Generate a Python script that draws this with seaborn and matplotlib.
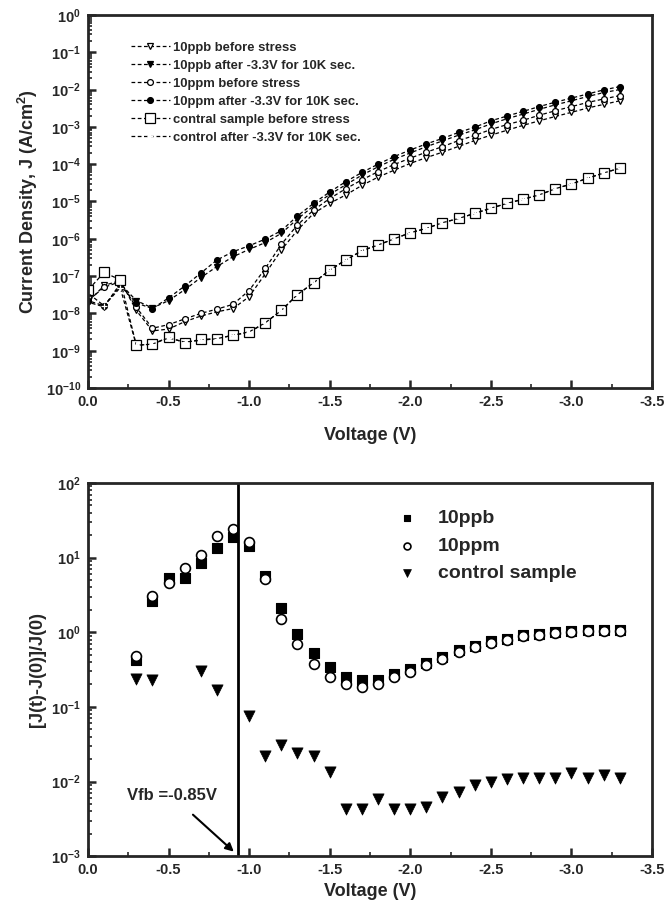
import numpy as np
import pandas as pd
import matplotlib
matplotlib.use("Agg")
import matplotlib.pyplot as plt
import seaborn as sns
from matplotlib.ticker import MultipleLocator, LogLocator, FuncFormatter, NullFormatter

# Top panel: current density vs voltage
voltage = [0.0, -0.1, -0.2, -0.3, -0.4, -0.5, -0.6, -0.7, -0.8, -0.9, -1.0, -1.1,
           -1.2, -1.3, -1.4, -1.5, -1.6, -1.7, -1.8, -1.9, -2.0, -2.1, -2.2, -2.3,
           -2.4, -2.5, -2.6, -2.7, -2.8, -2.9, -3.0, -3.1, -3.2, -3.3]

ppb_before = [2.0e-8, 5.6e-8, 7.6e-8, 1.2e-8, 3.4e-9, 3.8e-9, 6.0e-9, 8.5e-9, 1.1e-8,
              1.35e-8, 2.8e-8, 1.15e-7, 5.0e-7, 1.7e-6, 4.8e-6, 8.9e-6, 1.5e-5, 2.7e-5,
              4.5e-5, 6.9e-5, 1.05e-4, 1.5e-4, 2.1e-4, 3.0e-4, 4.3e-4, 6.0e-4, 8.1e-4,
              1.1e-3, 1.45e-3, 1.9e-3, 2.45e-3, 3.2e-3, 4.0e-3, 5.0e-3]
ppb_after = [2.0e-8, 1.5e-8, 6.3e-8, 2.2e-8, 1.4e-8, 2.2e-8, 4.3e-8, 9.1e-8, 1.8e-7,
             3.3e-7, 5.2e-7, 7.9e-7, 1.4e-6, 3.4e-6, 7.6e-6, 1.55e-5, 2.8e-5, 5.1e-5,
             8.5e-5, 1.35e-4, 2.0e-4, 2.95e-4, 4.2e-4, 6.0e-4, 8.3e-4, 1.2e-3, 1.65e-3,
             2.2e-3, 2.95e-3, 3.9e-3, 5.0e-3, 6.5e-3, 8.3e-3, 1.0e-2]
ppm_before = [2.2e-8, 5.0e-8, 7.1e-8, 1.45e-8, 4.0e-9, 5.0e-9, 7.1e-9, 1.0e-8, 1.3e-8,
              1.75e-8, 4.1e-8, 1.6e-7, 7.1e-7, 2.35e-6, 5.9e-6, 1.2e-5, 2.2e-5, 3.8e-5,
              6.3e-5, 9.8e-5, 1.45e-4, 2.1e-4, 2.95e-4, 4.3e-4, 5.9e-4, 8.5e-4, 1.15e-3,
              1.5e-3, 2.05e-3, 2.7e-3, 3.5e-3, 4.5e-3, 5.6e-3, 6.9e-3]
ppm_after = [2.2e-8, 1.6e-8, 5.6e-8, 1.9e-8, 1.35e-8, 2.6e-8, 5.4e-8, 1.2e-7, 2.7e-7,
             4.5e-7, 6.5e-7, 9.8e-7, 1.65e-6, 4.1e-6, 8.9e-6, 1.8e-5, 3.4e-5, 6.0e-5,
             1.0e-4, 1.6e-4, 2.4e-4, 3.5e-4, 4.9e-4, 7.1e-4, 9.8e-4, 1.45e-3, 1.95e-3,
             2.6e-3, 3.5e-3, 4.6e-3, 5.9e-3, 7.6e-3, 9.8e-3, 1.2e-2]
control_before = [4.2e-8, 1.26e-7, 7.9e-8, 1.4e-9, 1.5e-9, 2.3e-9, 1.65e-9, 2.0e-9, 2.1e-9,
                  2.6e-9, 3.1e-9, 5.6e-9, 1.2e-8, 3.2e-8, 6.6e-8, 1.45e-7, 2.7e-7, 4.8e-7,
                  6.8e-7, 1.0e-6, 1.45e-6, 1.9e-6, 2.7e-6, 3.5e-6, 4.8e-6, 6.6e-6, 8.9e-6,
                  1.15e-5, 1.5e-5, 2.2e-5, 2.95e-5, 4.2e-5, 5.8e-5, 7.8e-5]
control_after = [3.5e-8, 1.6e-8, 4.9e-8, 1.4e-9, 1.5e-9, 2.2e-9, 1.7e-9, 1.9e-9, 2.1e-9,
                 2.6e-9, 3.2e-9, 5.6e-9, 1.2e-8, 3.2e-8, 6.6e-8, 1.45e-7, 2.7e-7, 4.8e-7,
                 6.8e-7, 1.0e-6, 1.45e-6, 1.9e-6, 2.7e-6, 3.5e-6, 4.8e-6, 6.6e-6, 8.9e-6,
                 1.15e-5, 1.5e-5, 2.2e-5, 2.95e-5, 4.2e-5, 5.8e-5, 7.8e-5]

# Bottom panel: relative change [J(t)-J(0)]/J(0)
voltage_rel = [-0.3, -0.4, -0.5, -0.6, -0.7, -0.8, -0.9, -1.0, -1.1, -1.2, -1.3, -1.4,
               -1.5, -1.6, -1.7, -1.8, -1.9, -2.0, -2.1, -2.2, -2.3, -2.4, -2.5, -2.6,
               -2.7, -2.8, -2.9, -3.0, -3.1, -3.2, -3.3]
rel_10ppb = [0.42, 2.6, 5.3, 5.4, 8.4, 13.3, 18.7, 14.4, 5.7, 2.1, 0.95, 0.52, 0.34,
             0.25, 0.23, 0.23, 0.28, 0.32, 0.39, 0.47, 0.57, 0.66, 0.76, 0.82, 0.91,
             0.96, 1.0, 1.05, 1.07, 1.07, 1.06]
rel_10ppm = [0.48, 3.1, 4.6, 7.2, 10.9, 19.7, 24.3, 16.4, 5.2, 1.52, 0.69, 0.38, 0.25,
             0.2, 0.185, 0.2, 0.25, 0.29, 0.36, 0.44, 0.54, 0.63, 0.72, 0.78, 0.88,
             0.93, 0.98, 1.02, 1.04, 1.04, 1.04]
voltage_ctrl = [-0.3, -0.4, -0.7, -0.8, -1.0, -1.1, -1.2, -1.3, -1.4, -1.5, -1.6, -1.7,
                -1.8, -1.9, -2.0, -2.1, -2.2, -2.3, -2.4, -2.5, -2.6, -2.7, -2.8, -2.9,
                -3.0, -3.1, -3.2, -3.3]
rel_control = [0.236, 0.226, 0.30, 0.17, 0.076, 0.022, 0.031, 0.024, 0.022, 0.0135,
               0.0043, 0.0043, 0.0058, 0.0043, 0.0043, 0.0046, 0.0062, 0.0072, 0.0091,
               0.010, 0.0107, 0.011, 0.011, 0.011, 0.0132, 0.011, 0.0122, 0.011]

vfb_line = -0.93

sns.set_style("ticks")
plt.rcParams['font.family'] = ['Liberation Sans', 'DejaVu Sans']
plt.rcParams['font.weight'] = 'bold'
plt.rcParams['axes.labelweight'] = 'bold'
plt.rcParams['mathtext.fontset'] = 'custom'
plt.rcParams['mathtext.rm'] = 'Liberation Sans:bold'
plt.rcParams['mathtext.bf'] = 'Liberation Sans:bold'
plt.rcParams['mathtext.it'] = 'Liberation Sans:bold'

fig = plt.figure(figsize=(6.68, 9.07), dpi=100)
ax1 = fig.add_axes([0.1317, 0.5722, 0.8443, 0.4113])
ax2 = fig.add_axes([0.1317, 0.056, 0.8443, 0.4115])

dash = (0, (3, 2))
series = [
    (ppb_before, 'v', 'white', '10ppb before stress', 4.8),
    (ppb_after, 'v', 'black', '10ppb after -3.3V for 10K sec.', 4.8),
    (ppm_before, 'o', 'white', '10ppm before stress', 4.2),
    (ppm_after, 'o', 'black', '10ppm after -3.3V for 10K sec.', 4.2),
    (control_before, 's', 'white', 'contral sample before stress', 6.5),
]
for vals, mk, fc, lab, ms in series:
    sns.lineplot(x=voltage, y=vals, ax=ax1, color='black', linewidth=0.9,
                 linestyle=dash, marker=mk, markersize=ms, markerfacecolor=fc,
                 markeredgecolor='black', markeredgewidth=0.9, label=lab)
sns.lineplot(x=voltage, y=control_after, ax=ax1, color='black', linewidth=0.9,
             linestyle=dash, marker='+', markersize=5, markeredgewidth=0.9,
             label='control after -3.3V for 10K sec.')

ax1.set_yscale('log')
ax1.set_xlim(0, -3.5)
ax1.set_ylim(1e-10, 1)
ax1.set_xlabel('Voltage (V)', fontsize=13, labelpad=13)
ax1.set_ylabel(r'Current Density, J (A/cm$^2$)', fontsize=13, labelpad=4)
ax1.legend(loc='upper left', bbox_to_anchor=(0.055, 0.96), frameon=False,
           handlelength=3.0, labelspacing=0.45, handletextpad=0.25,
           prop={'weight': 'bold', 'size': 9.4})

# Bottom panel
sns.scatterplot(x=voltage_rel, y=rel_10ppb, ax=ax2, marker='s', s=50, color='black',
                edgecolor='black', linewidth=0.8, label='10ppb')
sns.scatterplot(x=voltage_rel, y=rel_10ppm, ax=ax2, marker='o', s=50, facecolor='white',
                edgecolor='black', linewidth=1.2, label='10ppm')
sns.scatterplot(x=voltage_ctrl, y=rel_control, ax=ax2, marker='v', s=65, color='black',
                edgecolor='black', linewidth=0.5, label='control sample')
ax2.axvline(vfb_line, color='black', linewidth=2)
ax2.annotate('Vfb =-0.85V', xy=(-0.905, 1.15e-3), xytext=(-0.52, 6.5e-3),
             ha='center', va='center', fontsize=12, fontweight='bold',
             arrowprops=dict(arrowstyle='-|>', color='black', lw=1.5,
                             shrinkA=9, shrinkB=0, mutation_scale=12))
ax2.set_yscale('log')
ax2.set_xlim(0, -3.5)
ax2.set_ylim(1e-3, 1e2)
ax2.set_xlabel('Voltage (V)', fontsize=13, labelpad=4)
ax2.set_ylabel('[J(t)-J(0)]/J(0)', fontsize=13, labelpad=4)
ax2.legend(loc='upper left', bbox_to_anchor=(0.5, 0.975), frameon=False,
           handletextpad=0.6, labelspacing=0.5, markerscale=0.7,
           prop={'weight': 'bold', 'size': 14})

pow_fmt = FuncFormatter(lambda v, p: r'$\mathbf{10^{%d}}$' % int(round(np.log10(v))))
for ax in (ax1, ax2):
    ax.xaxis.set_major_locator(MultipleLocator(0.5))
    ax.xaxis.set_minor_locator(MultipleLocator(0.25))
    ax.xaxis.set_major_formatter(FuncFormatter(lambda v, p: f'{v:.1f}' if abs(v) > 1e-9 else '0.0'))
    ax.yaxis.set_major_locator(LogLocator(base=10, numticks=20))
    ax.yaxis.set_minor_locator(LogLocator(base=10, subs=np.arange(2, 10), numticks=20))
    ax.yaxis.set_minor_formatter(NullFormatter())
    ax.yaxis.set_major_formatter(pow_fmt)
    ax.tick_params(axis='both', which='major', direction='in', length=6, width=1.8,
                   labelsize=10.5, pad=5)
    ax.tick_params(axis='both', which='minor', direction='in', length=3, width=1.2)
    for lab in ax.get_xticklabels():
        lab.set_fontweight('bold')
    for sp in ax.spines.values():
        sp.set_linewidth(2)
        sp.set_visible(True)

fig.savefig('out.png', dpi=100)
